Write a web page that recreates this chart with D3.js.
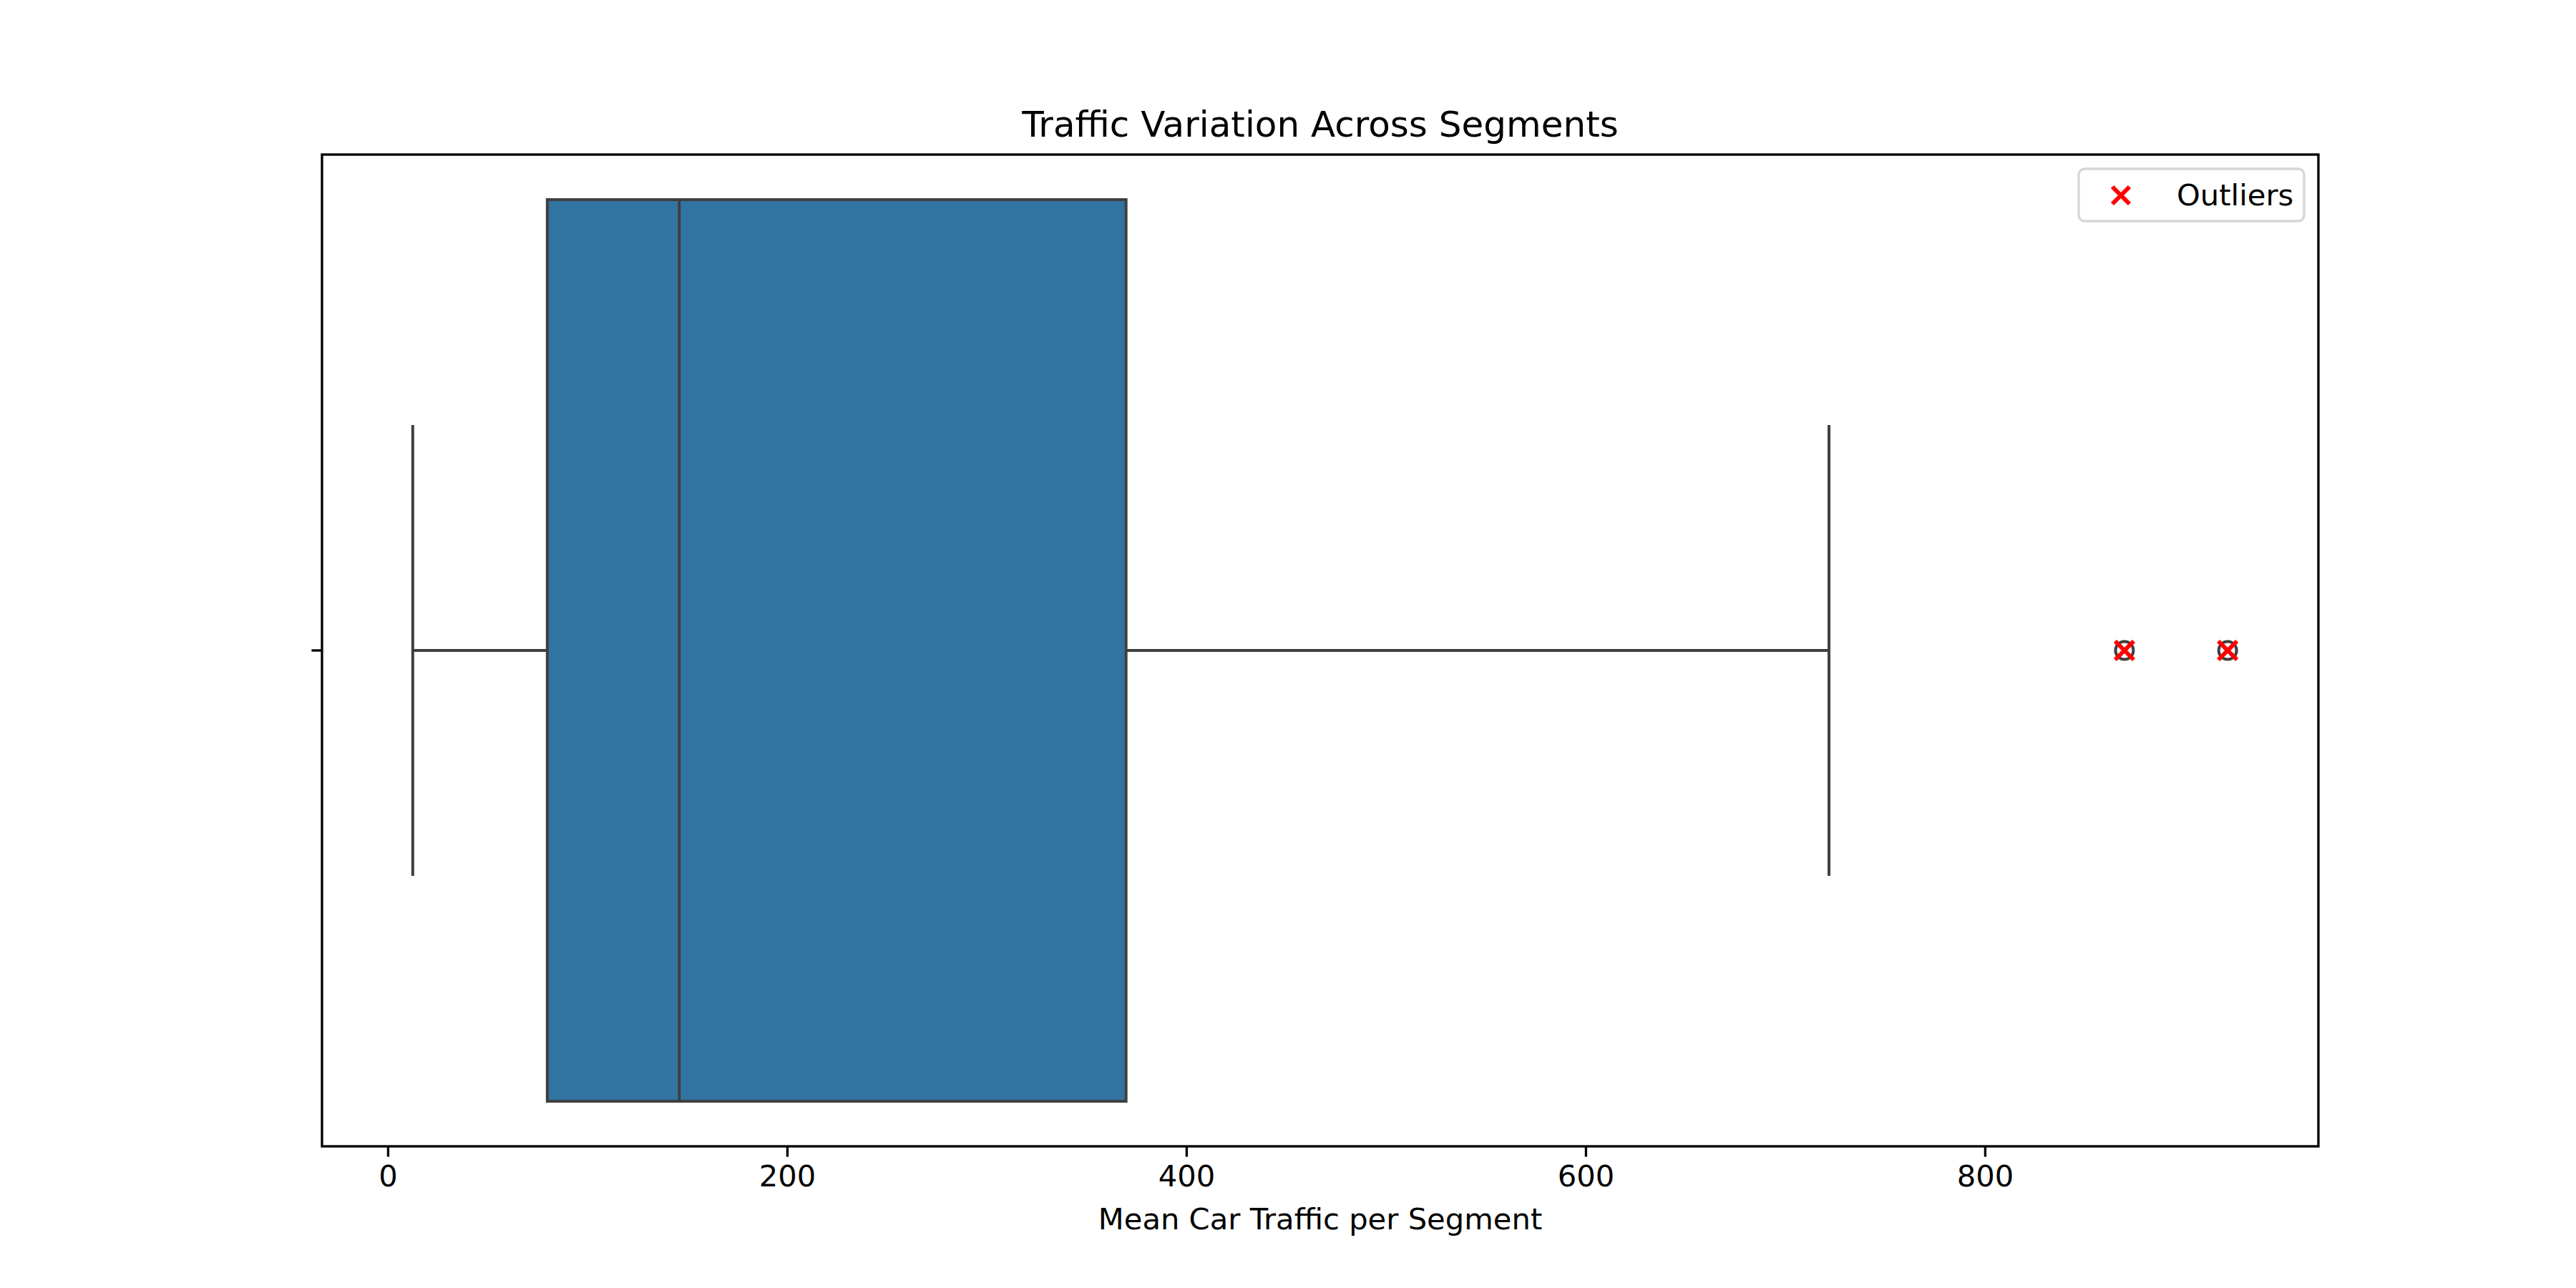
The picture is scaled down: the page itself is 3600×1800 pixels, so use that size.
<!DOCTYPE html>
<html>
<head>
<meta charset="utf-8">
<script src="https://cdn.jsdelivr.net/npm/d3@7"></script>
<style>
  html, body { margin: 0; padding: 0; background: #fff; }
  text { font-family: "DejaVu Sans", sans-serif; }
</style>
</head>
<body>
<svg id="chart" width="3600" height="1800"></svg>
<script>
// ---- data ----
const title = "Traffic Variation Across Segments";
const xLabel = "Mean Car Traffic per Segment";
const boxStats = [{ whiskerLow: 12.5, q1: 79.9, median: 146.0, q3: 369.8, whiskerHigh: 721.9 }];
const outlierValues = [869.9, 921.6];
const xTicks = [0, 200, 400, 600, 800];
const legendLabels = ["Outliers"];

// ---- layout ----
const W = 3600, H = 1800;
const margin = { left: 450, right: 360, top: 216, bottom: 198 };
const x0 = margin.left, x1 = W - margin.right, y0 = margin.top, y1 = H - margin.bottom;

const svg = d3.select("#chart");
svg.append("rect").attr("width", W).attr("height", H).attr("fill", "#fff");

const b = boxStats[0];
const dMin = Math.min(b.whiskerLow, ...outlierValues);
const dMax = Math.max(b.whiskerHigh, ...outlierValues);
const pad = (dMax - dMin) * 0.05;
const x = d3.scaleLinear().domain([dMin - pad, dMax + pad]).range([x0, x1]);
const y = d3.scaleLinear().domain([-0.44, 0.44]).range([y0, y1]);

const boxColor = "#3274a1", lineColor = "#3f3f3f", lw = 4;
const g = svg.append("g");

// whisker line
g.append("line").attr("x1", x(b.whiskerLow)).attr("x2", x(b.q1))
  .attr("y1", y(0)).attr("y2", y(0)).attr("stroke", lineColor).attr("stroke-width", lw);
g.append("line").attr("x1", x(b.q3)).attr("x2", x(b.whiskerHigh))
  .attr("y1", y(0)).attr("y2", y(0)).attr("stroke", lineColor).attr("stroke-width", lw);
// caps
[b.whiskerLow, b.whiskerHigh].forEach(v => {
  g.append("line").attr("x1", x(v)).attr("x2", x(v))
    .attr("y1", y(-0.2)).attr("y2", y(0.2)).attr("stroke", lineColor).attr("stroke-width", lw);
});
// box
g.append("rect").attr("x", x(b.q1)).attr("y", y(-0.4))
  .attr("width", x(b.q3) - x(b.q1)).attr("height", y(0.4) - y(-0.4))
  .attr("fill", boxColor).attr("stroke", lineColor).attr("stroke-width", lw);
// median
g.append("line").attr("x1", x(b.median)).attr("x2", x(b.median))
  .attr("y1", y(-0.4)).attr("y2", y(0.4)).attr("stroke", lineColor).attr("stroke-width", lw);

// flier circles
g.selectAll("circle.flier").data(outlierValues).enter().append("circle")
  .attr("class", "flier").attr("cx", d => x(d)).attr("cy", y(0)).attr("r", 12.5)
  .attr("fill", "none").attr("stroke", lineColor).attr("stroke-width", 4);

// red x markers
function drawX(sel, cx, cy, s) {
  sel.append("path")
    .attr("d", `M${cx - s},${cy - s}L${cx + s},${cy + s}M${cx - s},${cy + s}L${cx + s},${cy - s}`)
    .attr("stroke", "#ff0000").attr("stroke-width", 6).attr("fill", "none");
}
outlierValues.forEach(v => drawX(g, x(v), y(0), 13));

// axes
const xAxis = d3.axisBottom(x).tickValues(xTicks).tickSize(14.6).tickPadding(12).tickFormat(d3.format("d"));
const ax = svg.append("g").attr("transform", `translate(0,${y1})`).call(xAxis);
ax.select(".domain").remove();
ax.selectAll(".tick line").attr("stroke", "#000").attr("stroke-width", 3.33);
ax.selectAll(".tick text").attr("font-size", 41.7).attr("fill", "#000")
  .attr("font-family", "DejaVu Sans");

// y tick (no label)
svg.append("line").attr("x1", x0 - 14.6).attr("x2", x0).attr("y1", y(0)).attr("y2", y(0))
  .attr("stroke", "#000").attr("stroke-width", 3.33);

// frame
svg.append("rect").attr("x", x0).attr("y", y0).attr("width", x1 - x0).attr("height", y1 - y0)
  .attr("fill", "none").attr("stroke", "#000").attr("stroke-width", 3.33);

// title and label
svg.append("text").attr("x", (x0 + x1) / 2).attr("y", 191).attr("text-anchor", "middle")
  .attr("font-size", 50).attr("fill", "#000").text(title);
svg.append("text").attr("x", (x0 + x1) / 2).attr("y", 1718).attr("text-anchor", "middle")
  .attr("font-size", 41.7).attr("fill", "#000").text(xLabel);

// legend
const lg = svg.append("g");
lg.append("rect").attr("x", 2905).attr("y", 236).attr("width", 315).attr("height", 73)
  .attr("rx", 8).attr("fill", "#fff").attr("fill-opacity", 0.8)
  .attr("stroke", "#d6d6d6").attr("stroke-width", 3.33);
drawX(lg, 2964, 273, 12);
lg.append("text").attr("x", 3042).attr("y", 287).attr("font-size", 41.7).attr("fill", "#000")
  .text(legendLabels[0]);
</script>
</body>
</html>
